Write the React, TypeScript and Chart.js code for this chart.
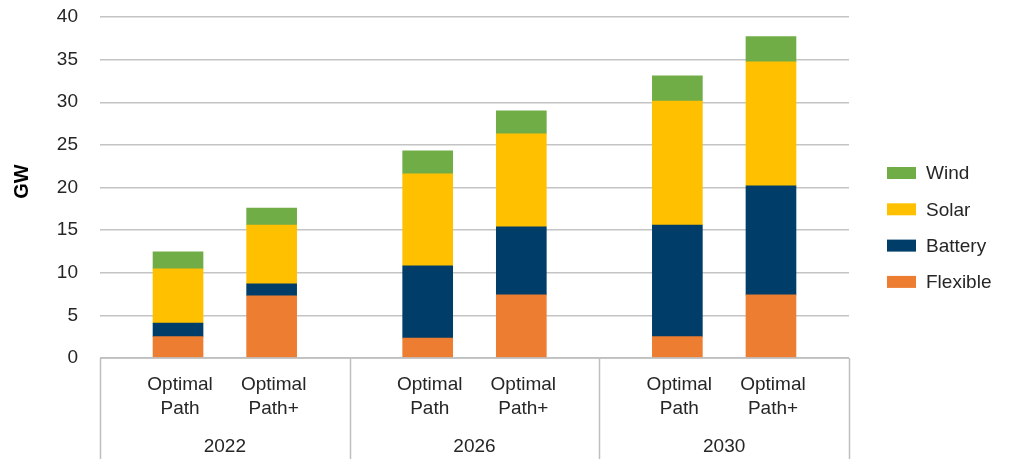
import React, { useEffect, useRef } from "react";
import { Chart, registerables } from "chart.js";

Chart.register(...registerables);

const years = ["2022", "2026", "2030"];
const scenarios = [["Optimal", "Path"], ["Optimal", "Path+"]];
const seriesNames = ["Flexible", "Battery", "Solar", "Wind"];
const seriesColors = ["#ED7D31", "#003E69", "#FFC000", "#70AD47"];

// values per bar: 2022 OP, 2022 OP+, 2026 OP, 2026 OP+, 2030 OP, 2030 OP+
const flexible = [2.5, 7.3, 2.35, 7.4, 2.5, 7.4];
const battery = [1.6, 1.4, 8.45, 8.0, 13.1, 12.8];
const solar = [6.35, 6.9, 10.8, 10.9, 14.55, 14.55];
const wind = [2.0, 2.0, 2.7, 2.7, 2.95, 2.95];

const yTicks = [0, 5, 10, 15, 20, 25, 30, 35, 40];

const SLOTS_PER_GROUP = 8;
const BAR_SLOTS = [2, 5];
const FONT = "'Liberation Sans', Arial, sans-serif";
const TEXT = "#262626";

function expand(values: number[]): (number | null)[] {
  const out: (number | null)[] = [];
  years.forEach((_, g) => {
    for (let s = 0; s < SLOTS_PER_GROUP; s++) {
      const k = BAR_SLOTS.indexOf(s);
      out.push(k >= 0 ? values[g * scenarios.length + k] : null);
    }
  });
  return out;
}

function slotLabels(): string[] {
  const out: string[] = [];
  years.forEach((y) => {
    for (let s = 0; s < SLOTS_PER_GROUP; s++) {
      const k = BAR_SLOTS.indexOf(s);
      out.push(k >= 0 ? y + " " + scenarios[k].join(" ") : "");
    }
  });
  return out;
}

export default function App() {
  const ref = useRef<HTMLCanvasElement | null>(null);

  useEffect(() => {
    if (!ref.current) return;
    const allSeries = [flexible, battery, solar, wind];

    const customPlugin = {
      id: "custom",
      afterDraw(chart: any) {
        const ctx = chart.ctx;
        const area = chart.chartArea;
        const xs = chart.scales.x;
        ctx.save();
        // bottom axis line + separators
        ctx.strokeStyle = "#BFBFBF";
        ctx.lineWidth = 1.5;
        const gw = (area.right - area.left) / years.length;
        ctx.beginPath();
        ctx.moveTo(area.left, area.bottom);
        ctx.lineTo(area.right, area.bottom);
        for (let g = 0; g <= years.length; g++) {
          const x = Math.round(area.left + g * gw) + 0.5;
          ctx.moveTo(x, area.bottom);
          ctx.lineTo(x, chart.height);
        }
        ctx.stroke();

        // category labels
        ctx.fillStyle = TEXT;
        ctx.font = `19px ${FONT}`;
        ctx.textAlign = "center";
        ctx.textBaseline = "middle";
        years.forEach((y, g) => {
          BAR_SLOTS.forEach((s, k) => {
            const x = xs.getPixelForValue(g * SLOTS_PER_GROUP + s) + 2;
            ctx.fillText(scenarios[k][0], x, area.bottom + 27);
            ctx.fillText(scenarios[k][1], x, area.bottom + 51);
          });
          ctx.fillText(y, area.left + (g + 0.5) * gw, area.bottom + 89);
        });

        // y title
        ctx.save();
        ctx.translate(22, (area.top + area.bottom) / 2 - 6);
        ctx.rotate(-Math.PI / 2);
        ctx.font = `bold 20px ${FONT}`;
        ctx.fillStyle = "#000";
        ctx.fillText("GW", 0, 0);
        ctx.restore();

        // legend (reverse order: Wind on top)
        const lx = area.right + 38;
        const startY = 173;
        const step = 36.3;
        ctx.textAlign = "left";
        ctx.font = `19px ${FONT}`;
        for (let i = seriesNames.length - 1, row = 0; i >= 0; i--, row++) {
          const cy = startY + row * step;
          ctx.fillStyle = seriesColors[i];
          ctx.fillRect(lx, cy - 6, 29, 12);
          ctx.fillStyle = TEXT;
          ctx.fillText(seriesNames[i], lx + 39, cy + 1);
        }
        ctx.restore();
      },
    };

    const chart = new Chart(ref.current, {
      type: "bar",
      data: {
        labels: slotLabels(),
        datasets: seriesNames.map((name, i) => ({
          label: name,
          data: expand(allSeries[i]),
          backgroundColor: seriesColors[i],
          borderWidth: 0,
          barThickness: 50,
        })),
      },
      options: {
        responsive: false,
        animation: false,
        devicePixelRatio: 1,
        layout: { padding: { top: 17, right: 162, bottom: 101, left: 0 } },
        plugins: {
          legend: { display: false },
          tooltip: { enabled: false },
        },
        scales: {
          x: {
            stacked: true,
            display: false,
          },
          y: {
            stacked: true,
            min: 0,
            max: 40,
            afterFit: (scale: any) => {
              scale.width = 100;
              scale.paddingTop = 0;
              scale.paddingBottom = 0;
            },
            afterBuildTicks: (scale: any) => {
              scale.ticks = yTicks.map((v) => ({ value: v }));
            },
            border: { display: false },
            grid: {
              color: "#C4C4C4",
              lineWidth: 1.5,
              drawTicks: false,
            },
            ticks: {
              padding: 22,
              color: TEXT,
              font: { family: FONT, size: 19 },
            },
          },
        },
      },
      plugins: [customPlugin],
    });
    return () => chart.destroy();
  }, []);

  return (
    <div style={{ position: "fixed", left: 0, top: 0, width: 1011, height: 459, background: "#fff" }}>
      <canvas ref={ref} width={1011} height={459} style={{ width: 1011, height: 459 }} />
    </div>
  );
}
